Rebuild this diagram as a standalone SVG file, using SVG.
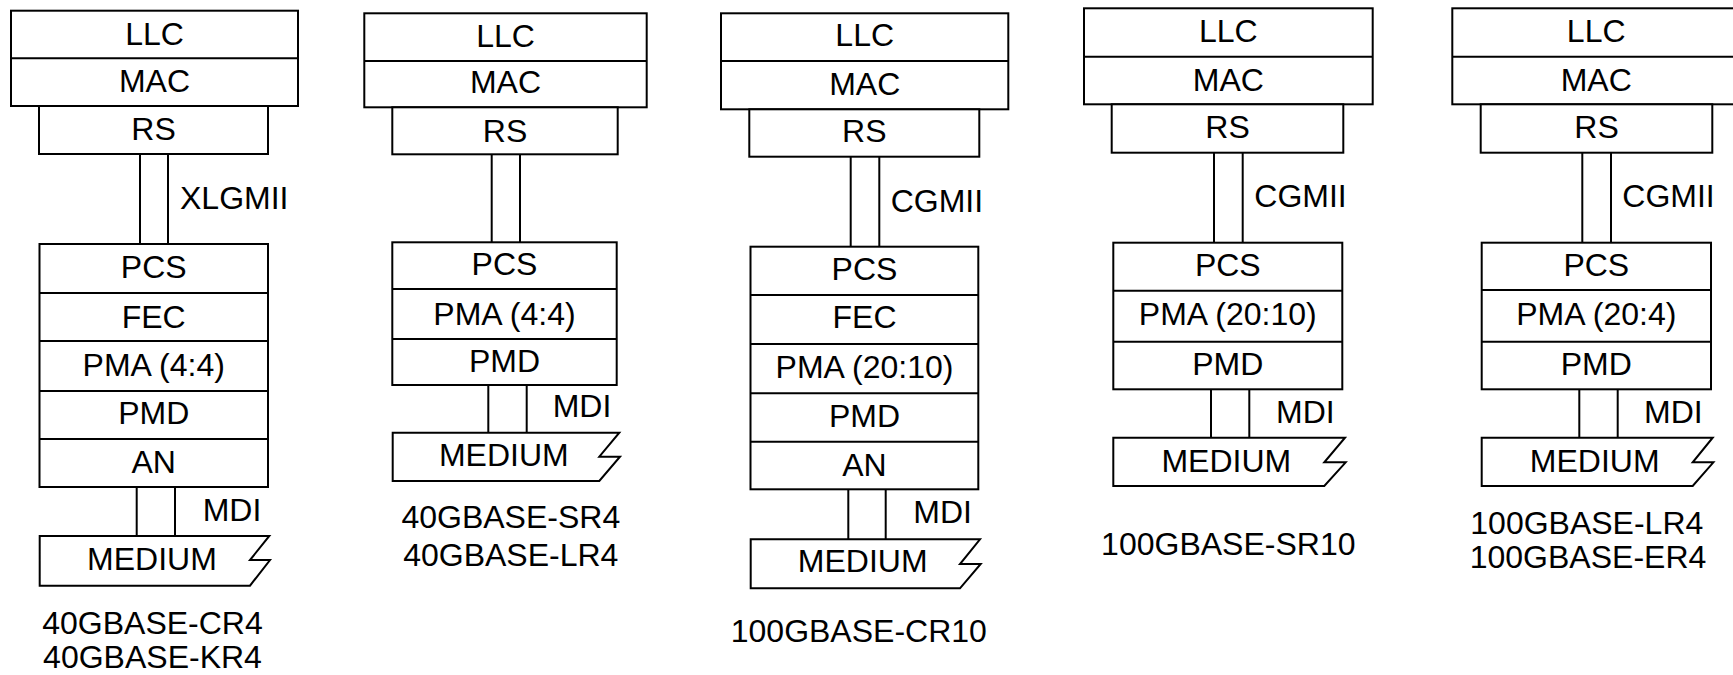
<svg xmlns="http://www.w3.org/2000/svg" width="1733" height="675" viewBox="0 0 1733 675">
<style>
  .b{fill:#fff;stroke:#000;stroke-width:2}
  .l{fill:none;stroke:#000;stroke-width:2}
  text{font-family:"Liberation Sans",Arial,sans-serif;font-size:32px;fill:#000}
  .c{text-anchor:middle}
</style>
<rect width="1733" height="675" fill="#fff"/>

<!-- Stack 1 -->
<g id="s1-llcmac"><rect class="b" x="11" y="10.7" width="287" height="95.3"/><line class="l" x1="11" y1="58.3" x2="298" y2="58.3"/><text class="c" x="154.5" y="45">LLC</text><text class="c" x="154.5" y="91.7">MAC</text></g>
<g id="s1-rs"><rect class="b" x="39" y="106" width="229" height="48"/><text class="c" x="153.5" y="140">RS</text></g>
<g id="s1-phy"><rect class="b" x="39.5" y="244" width="228.5" height="243"/>
<line class="l" x1="39.5" y1="293" x2="268" y2="293"/><line class="l" x1="39.5" y1="341" x2="268" y2="341"/><line class="l" x1="39.5" y1="391" x2="268" y2="391"/><line class="l" x1="39.5" y1="439" x2="268" y2="439"/>
<text class="c" x="153.7" y="277.7">PCS</text><text class="c" x="153.7" y="327.7">FEC</text><text class="c" x="153.7" y="375.7">PMA (4:4)</text><text class="c" x="153.7" y="424.3">PMD</text><text class="c" x="153.7" y="472.7">AN</text></g>
<g id="s1-medium"><path class="b" d="M39.7,536 H269.3 L250,560 H270 L250,585.7 H39.7 Z"/><text class="c" x="152" y="570">MEDIUM</text></g>
<g id="s1-label"><text class="c" x="152.5" y="634">40GBASE-CR4</text><text class="c" x="152.5" y="668">40GBASE-KR4</text></g>

<!-- Stack 2 -->
<g id="s2-llcmac"><rect class="b" x="364.3" y="13.3" width="282.4" height="94"/><line class="l" x1="364.3" y1="61" x2="646.7" y2="61"/><text class="c" x="505.5" y="46.7">LLC</text><text class="c" x="505.5" y="93.3">MAC</text></g>
<g id="s2-rs"><rect class="b" x="392.3" y="107.3" width="225.4" height="47"/><text class="c" x="505" y="141.7">RS</text></g>
<g id="s2-phy"><rect class="b" x="392.3" y="242.3" width="224.4" height="142.7"/>
<line class="l" x1="392.3" y1="289" x2="616.7" y2="289"/><line class="l" x1="392.3" y1="339" x2="616.7" y2="339"/>
<text class="c" x="504.5" y="275">PCS</text><text class="c" x="504.5" y="325">PMA (4:4)</text><text class="c" x="504.5" y="371.7">PMD</text></g>
<g id="s2-medium"><path class="b" d="M392.7,432.7 H619.3 L599.3,456.7 H620 L599.3,481 H392.7 Z"/><text class="c" x="503.8" y="465.7">MEDIUM</text></g>
<g id="s2-label"><text class="c" x="510.8" y="528.3">40GBASE-SR4</text><text class="c" x="510.8" y="565.7">40GBASE-LR4</text></g>

<!-- Stack 3 -->
<g id="s3-llcmac"><rect class="b" x="721" y="13.3" width="287.3" height="96"/><line class="l" x1="721" y1="61" x2="1008.3" y2="61"/><text class="c" x="864.7" y="46">LLC</text><text class="c" x="864.7" y="95">MAC</text></g>
<g id="s3-rs"><rect class="b" x="749.3" y="109.3" width="230" height="47.4"/><text class="c" x="864.3" y="141.7">RS</text></g>
<g id="s3-phy"><rect class="b" x="750.5" y="246.7" width="227.8" height="242.6"/>
<line class="l" x1="750.5" y1="295" x2="978.3" y2="295"/><line class="l" x1="750.5" y1="344" x2="978.3" y2="344"/><line class="l" x1="750.5" y1="393.3" x2="978.3" y2="393.3"/><line class="l" x1="750.5" y1="441.7" x2="978.3" y2="441.7"/>
<text class="c" x="864.5" y="280">PCS</text><text class="c" x="864.5" y="328.3">FEC</text><text class="c" x="864.5" y="378.3">PMA (20:10)</text><text class="c" x="864.5" y="427.3">PMD</text><text class="c" x="864.5" y="476">AN</text></g>
<g id="s3-medium"><path class="b" d="M750.7,539.3 H980 L960,564 H980.7 L960,588.3 H750.7 Z"/><text class="c" x="862.7" y="572.3">MEDIUM</text></g>
<g id="s3-label"><text class="c" x="858.8" y="641.7">100GBASE-CR10</text></g>

<!-- Stack 4 -->
<g id="s4-llcmac"><rect class="b" x="1084" y="8.3" width="288.7" height="96"/><line class="l" x1="1084" y1="56.7" x2="1372.7" y2="56.7"/><text class="c" x="1228.3" y="41.7">LLC</text><text class="c" x="1228.3" y="90.7">MAC</text></g>
<g id="s4-rs"><rect class="b" x="1111.7" y="104.3" width="231.6" height="48.4"/><text class="c" x="1227.5" y="138.3">RS</text></g>
<g id="s4-phy"><rect class="b" x="1113.3" y="242.7" width="229" height="146.6"/>
<line class="l" x1="1113.3" y1="290.7" x2="1342.3" y2="290.7"/><line class="l" x1="1113.3" y1="341.7" x2="1342.3" y2="341.7"/>
<text class="c" x="1227.8" y="276">PCS</text><text class="c" x="1227.8" y="325">PMA (20:10)</text><text class="c" x="1227.8" y="375">PMD</text></g>
<g id="s4-medium"><path class="b" d="M1113.3,437.7 H1345 L1324.3,462.3 H1345.7 L1324.3,486 H1113.3 Z"/><text class="c" x="1226.3" y="471.7">MEDIUM</text></g>
<g id="s4-label"><text class="c" x="1228.3" y="555">100GBASE-SR10</text></g>

<!-- Stack 5 -->
<g id="s5-llcmac"><rect class="b" x="1452.3" y="8.3" width="288" height="96"/><line class="l" x1="1452.3" y1="56.7" x2="1740.3" y2="56.7"/><text class="c" x="1596.2" y="41.7">LLC</text><text class="c" x="1596.2" y="90.7">MAC</text></g>
<g id="s5-rs"><rect class="b" x="1480.7" y="104.3" width="231.6" height="48.4"/><text class="c" x="1596.5" y="138.3">RS</text></g>
<g id="s5-phy"><rect class="b" x="1481.7" y="242.7" width="229.3" height="146.6"/>
<line class="l" x1="1481.7" y1="290" x2="1711" y2="290"/><line class="l" x1="1481.7" y1="341.7" x2="1711" y2="341.7"/>
<text class="c" x="1596.3" y="276">PCS</text><text class="c" x="1596.3" y="325">PMA (20:4)</text><text class="c" x="1596.3" y="375">PMD</text></g>
<g id="s5-medium"><path class="b" d="M1481.7,437.7 H1712.7 L1692.7,462.3 H1713.4 L1692.7,486 H1481.7 Z"/><text class="c" x="1594.7" y="471.7">MEDIUM</text></g>
<g id="s5-label"><text class="c" x="1586.8" y="534">100GBASE-LR4</text><text class="c" x="1588" y="568.3">100GBASE-ER4</text></g>

<!-- Connectors (interfaces) -->
<g id="connectors">
  <line class="l" x1="140" y1="154" x2="140" y2="244"/><line class="l" x1="168" y1="154" x2="168" y2="244"/>
  <text x="180" y="209">XLGMII</text>
  <line class="l" x1="136.7" y1="487" x2="136.7" y2="536"/><line class="l" x1="175" y1="487" x2="175" y2="536"/>
  <text x="202.7" y="520.7">MDI</text>

  <line class="l" x1="491.7" y1="154.3" x2="491.7" y2="242.3"/><line class="l" x1="520" y1="154.3" x2="520" y2="242.3"/>
  <line class="l" x1="488.3" y1="385" x2="488.3" y2="432.7"/><line class="l" x1="526.7" y1="385" x2="526.7" y2="432.7"/>
  <text x="552.7" y="417.3">MDI</text>

  <line class="l" x1="850.7" y1="156.7" x2="850.7" y2="246.7"/><line class="l" x1="879.3" y1="156.7" x2="879.3" y2="246.7"/>
  <text x="890.7" y="211.7">CGMII</text>
  <line class="l" x1="848.3" y1="489.3" x2="848.3" y2="539.3"/><line class="l" x1="885.7" y1="489.3" x2="885.7" y2="539.3"/>
  <text x="913.3" y="523.3">MDI</text>

  <line class="l" x1="1214" y1="152.7" x2="1214" y2="242.7"/><line class="l" x1="1242.7" y1="152.7" x2="1242.7" y2="242.7"/>
  <text x="1254.3" y="206.7">CGMII</text>
  <line class="l" x1="1211" y1="389.3" x2="1211" y2="437.7"/><line class="l" x1="1249.3" y1="389.3" x2="1249.3" y2="437.7"/>
  <text x="1276" y="422.7">MDI</text>

  <line class="l" x1="1582.3" y1="152.7" x2="1582.3" y2="242.7"/><line class="l" x1="1611" y1="152.7" x2="1611" y2="242.7"/>
  <text x="1622.3" y="206.7">CGMII</text>
  <line class="l" x1="1579.3" y1="389.3" x2="1579.3" y2="437.7"/><line class="l" x1="1617.7" y1="389.3" x2="1617.7" y2="437.7"/>
  <text x="1644" y="422.7">MDI</text>
</g>
</svg>
